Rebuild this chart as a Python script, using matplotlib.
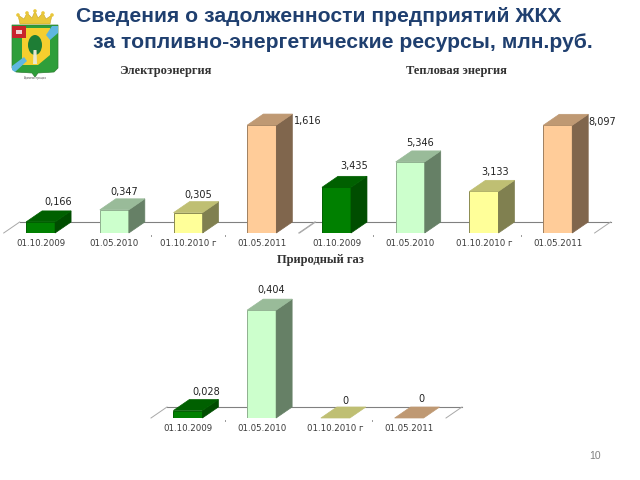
import matplotlib
matplotlib.use("Agg")
import matplotlib.pyplot as plt
from matplotlib.patches import Polygon, Ellipse, Circle

# Data
dates = ["01.10.2009", "01.05.2010", "01.10.2010 г", "01.05.2011"]
power = [0.166, 0.347, 0.305, 1.616]
heat = [3.435, 5.346, 3.133, 8.097]
gas = [0.028, 0.404, 0, 0]
power_labels = ["0,166", "0,347", "0,305", "1,616"]
heat_labels = ["3,435", "5,346", "3,133", "8,097"]
gas_labels = ["0,028", "0,404", "0", "0"]
power_title = "Электроэнергия"
heat_title = "Тепловая энергия"
gas_title = "Природный газ"
title_1 = "Сведения о задолженности предприятий ЖКХ"
title_2 = "за топливно-энергетические ресурсы, млн.руб."

# Colours per bar: front, top, side, edge
front = ["#008000", "#CCFFCC", "#FFFF99", "#FFCC99"]
top = ["#006000", "#99BB99", "#BFBF73", "#BF9973"]
side = ["#004D00", "#668066", "#808050", "#80664D"]
edge = ["#006000", "#8FB08F", "#8C8C50", "#A08060"]

W, H = 640, 480
DX, DY = 16, 11     # depth of the 3d look, px
STEP = 295 / 4      # px per category
BAR = 29 / STEP

fig = plt.figure(figsize=(W / 100, H / 100), dpi=100)


def chart(left, base, scale, values, labels, label_off, ticks):
    h = 125
    ax = fig.add_axes([left / W, (H - base) / H, 295 / W, h / H])
    ax.set_xlim(-0.5, 3.5)
    ax.set_ylim(0, h / scale)
    ax.patch.set_alpha(0)
    for s in ax.spines.values():
        s.set_visible(False)
    ax.set_yticks([])
    ax.set_xticks(range(4))
    ax.set_xticklabels(dates, fontsize=6.2, color="#3A3A3A", family="DejaVu Sans")
    ax.tick_params(axis="x", length=0, pad=4)

    ddx, ddy = DX / STEP, DY / scale
    # back floor line and the slanted ends
    ax.plot([-0.5 + ddx, 3.5 + ddx], [ddy, ddy], color="#808080", lw=0.8, zorder=1, clip_on=False)
    for x in (-0.5, 3.5):
        ax.plot([x, x + ddx], [0, ddy], color="#A8A8A8", lw=0.7, zorder=1, clip_on=False)
    for x in ticks:
        ax.plot([x, x], [-1.5 / scale, -3 / scale], color="#808080", lw=0.6, clip_on=False)

    for i, v in enumerate(values):
        x0, x1 = i - BAR / 2, i + BAR / 2
        if v > 0:
            ax.bar(i, v, width=BAR, color=front[i], edgecolor=edge[i], lw=0.7, zorder=3)
            ax.add_patch(Polygon([(x1, 0), (x1 + ddx, ddy), (x1 + ddx, v + ddy), (x1, v)],
                                 fc=side[i], ec=side[i], lw=0.5, zorder=3, clip_on=False))
        ax.add_patch(Polygon([(x0, v), (x1, v), (x1 + ddx, v + ddy), (x0 + ddx, v + ddy)],
                             fc=top[i], ec=top[i], lw=0.5, zorder=3, clip_on=False))
        ox, oy = label_off[i]
        ax.annotate(labels[i], (i, v), xytext=(ox * 0.72, oy * 0.72), textcoords="offset points",
                    ha="center", va="center", fontsize=7, color="#222222", annotation_clip=False)
    return ax


chart(3.7, 233, 66.8, power, power_labels,
      [(17.5, 20), (9.5, 18), (10.5, 18), (45.5, 4)], [1.5, 2.5])
chart(299.6, 233, 13.3, heat, heat_labels,
      [(18, 21), (9.5, 19), (11.5, 19), (44.5, 3)], [0.5, 2.5])
chart(151, 418, 267, gas, gas_labels,
      [(18, 18.5), (9.5, 20), (10.5, 17), (12.5, 19)], [0.5, 2.5])

# Page layer in pixel coordinates: titles and the coat of arms
page = fig.add_axes([0, 0, 1, 1], zorder=5)
page.set_xlim(0, W)
page.set_ylim(H, 0)
page.axis("off")

navy = "#1F3F6F"
page.text(76, 17, title_1, fontsize=15.25, fontweight="bold", color=navy, family="Liberation Sans", va="center")
page.text(93, 42, title_2, fontsize=15.25, fontweight="bold", color=navy, family="Liberation Sans", va="center")
for x, y, s in [(165, 71, power_title), (456, 71, heat_title), (320, 260, gas_title)]:
    page.text(x, y, s, fontsize=9, fontweight="bold", color="#333333", family="Liberation Serif",
              ha="center", va="center")
page.text(595, 456, "10", fontsize=7.5, color="#808080", family="Liberation Sans", ha="center", va="center")

# Coat of arms
shield = [(12, 25), (58, 25), (58, 68), (54, 72), (38, 73), (35, 77), (32, 73), (16, 72), (12, 68)]
page.add_patch(Polygon(shield, fc="#2E9E3A", ec="#2E7D32", lw=0.5))
page.add_patch(Polygon([(22, 28), (50, 28), (50, 55), (38, 65), (22, 65)], fc="#F5CE2E", ec="none"))
page.add_patch(Polygon([(52, 26), (58, 26), (58, 33), (50, 40), (46, 35)], fc="#5FB7E0", ec="none"))
page.add_patch(Polygon([(12, 66), (24, 57), (27, 61), (15, 72), (12, 70)], fc="#5FB7E0", ec="none"))
page.add_patch(Polygon([(12, 26), (26, 26), (26, 38), (12, 38)], fc="#C8232C", ec="none"))
page.add_patch(Polygon([(16, 30), (22, 30), (22, 34), (16, 34)], fc="#F0D0D0", ec="none"))
page.add_patch(Ellipse((35, 45), 14, 20, fc="#1E7D35", ec="none"))
page.add_patch(Polygon([(33.5, 50), (36.5, 50), (37, 64), (33, 64)], fc="#E8E8D0", ec="none"))
crown = [(20, 24), (18, 15), (24, 19), (27, 13), (32, 18), (35, 11), (38, 18), (43, 13), (46, 19), (52, 15), (50, 24)]
page.add_patch(Polygon(crown, fc="#E9C73A", ec="#C8A52A", lw=0.4))
for x, y in [(18, 15), (27, 13), (35, 11), (43, 13), (52, 15)]:
    page.add_patch(Circle((x, y), 1.8, fc="#E9C73A", ec="none"))
page.text(35, 78.5, "Администрация", fontsize=2, color="#555555", ha="center", va="center")

fig.savefig("out.png", dpi=100)
